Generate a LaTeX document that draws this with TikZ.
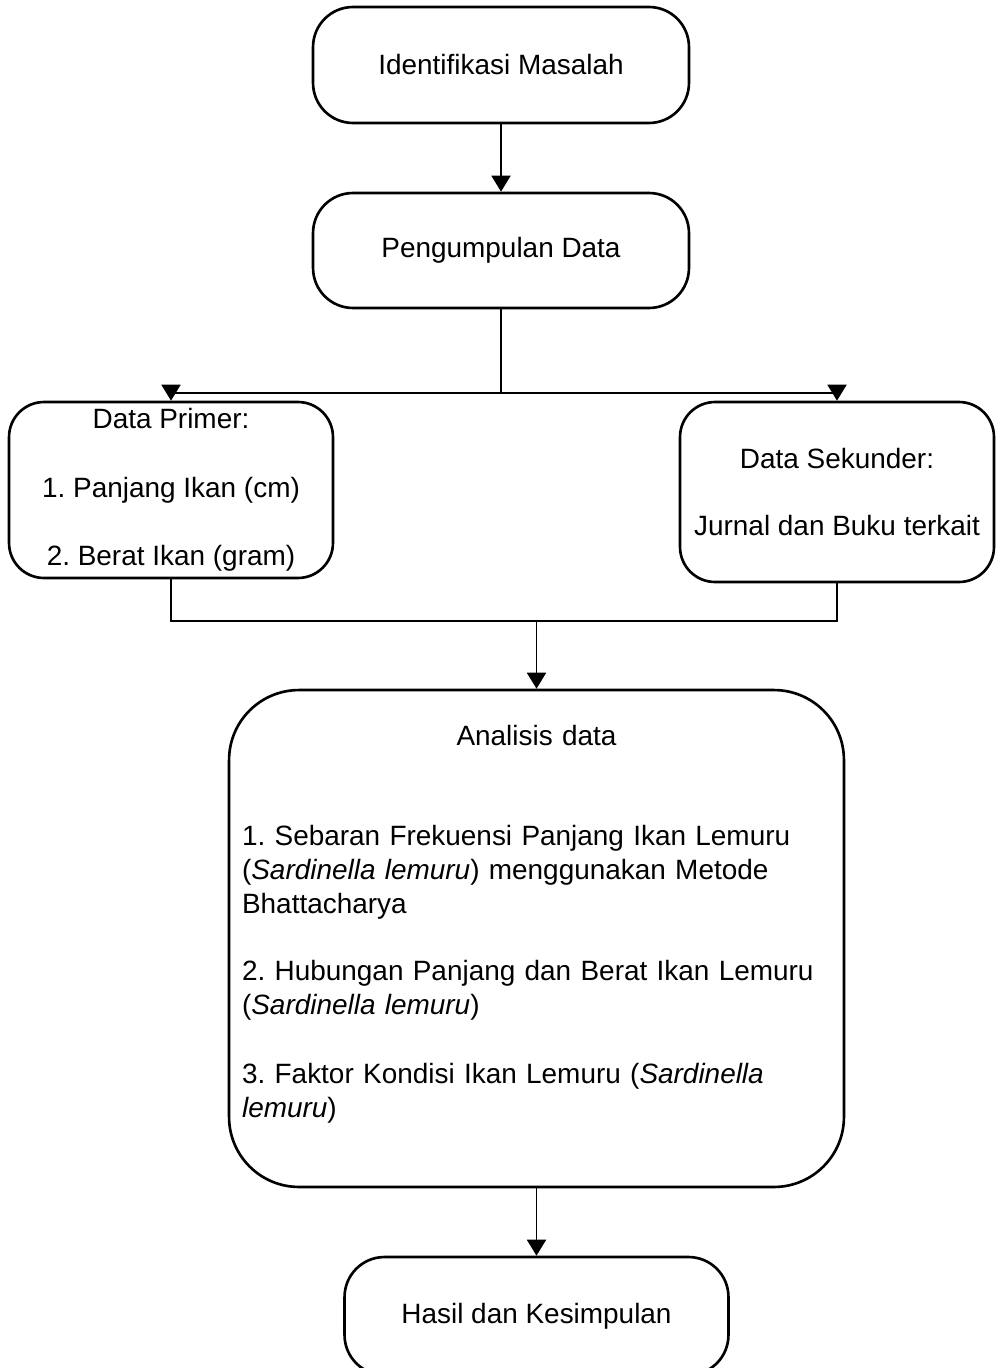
\documentclass[tikz,border=0pt]{standalone}
\usepackage{fontspec}
\setmainfont{Liberation Sans}
\usetikzlibrary{arrows.meta}

\begin{document}
\begin{tikzpicture}[x=0.02cm, y=-0.02cm,
        box/.style={draw, line width=1.5pt, rounded corners=0.8cm, align=center,
            font=\fontsize{15.9}{19.4}\selectfont\frenchspacing},
        flow/.style={line width=1.1pt, -{Triangle[length=0.32cm, width=0.38cm]}},
        link/.style={line width=1.1pt}]
    \useasboundingbox (0,0) rectangle (995,1368);

    \node[box, minimum width=7.52cm, minimum height=2.32cm] (ident) at (501,65) {Identifikasi Masalah};
    \node[box, minimum width=7.52cm, minimum height=2.3cm] (kumpul) at (501,250.5) {Pengumpulan Data};
    \node[box, rounded corners=0.7cm, minimum width=6.48cm, minimum height=3.52cm] (primer) at (171,490)
        {Data Primer:\\[0.69cm]1. Panjang Ikan (cm)\\[0.69cm]2. Berat Ikan (gram)};
    \node[box, rounded corners=0.7cm, minimum width=6.28cm, minimum height=3.6cm] (sekunder) at (837,492)
        {Data Sekunder:\\[0.64cm]Jurnal dan Buku terkait};
    \node[box, rounded corners=1.4cm, minimum width=12.3cm, minimum height=9.94cm,
        text width=11.78cm, inner xsep=0.26cm, align=left] (analisis) at (536.5,938.5)
        {\makebox[\linewidth]{Analisis data}\\[1.32cm]
         1. Sebaran Frekuensi Panjang Ikan Lemuru\\
         (\textit{Sardinella lemuru}) menggunakan Metode\\
         Bhattacharya\\[0.66cm]
         2. Hubungan Panjang dan Berat Ikan Lemuru\\
         (\textit{Sardinella lemuru})\\[0.7cm]
         3. Faktor Kondisi Ikan Lemuru (\textit{Sardinella}\\
         \textit{lemuru})\\ \mbox{}};
    \node[box, minimum width=7.68cm, minimum height=2.36cm] (hasil) at (536.5,1316) {Hasil dan Kesimpulan};

    \coordinate (fork) at (501,393);
    \coordinate (join) at (536.5,621);

    \draw[flow] (ident) -- (kumpul);
    \draw[link] (kumpul) -- (fork);
    \draw[flow] (fork) -| (primer); \draw[flow] (fork) -| (sekunder);
    \draw[link] (primer) |- (join); \draw[link] (sekunder) |- (join);
    \draw[flow] (join) -- (analisis);
    \draw[flow] (analisis) -- (hasil);
\end{tikzpicture}
\end{document}
